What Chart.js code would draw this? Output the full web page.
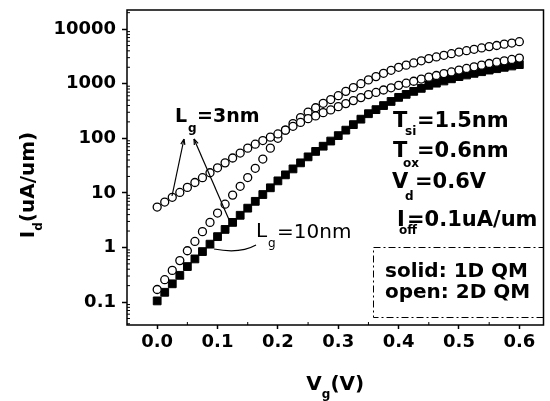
<!DOCTYPE html>
<html>
<head>
<meta charset="utf-8">
<script src="https://cdn.jsdelivr.net/npm/chart.js@4.4.0/dist/chart.umd.min.js"></script>
<style>
html, body { margin: 0; padding: 0; background: #fff; }
#wrap { width: 550px; height: 401px; }
</style>
</head>
<body>
<div id="wrap"><canvas id="grafico" width="550" height="401"></canvas></div>
<script>
// Tensão de porta (V)
const vg = [0, 0.0125, 0.025, 0.0375, 0.05, 0.0625, 0.075, 0.0875, 0.1, 0.1125, 0.125, 0.1375,
    0.15, 0.1625, 0.175, 0.1875, 0.2, 0.2125, 0.225, 0.2375, 0.25, 0.2625, 0.275, 0.2875,
    0.3, 0.3125, 0.325, 0.3375, 0.35, 0.3625, 0.375, 0.3875, 0.4, 0.4125, 0.425, 0.4375,
    0.45, 0.4625, 0.475, 0.4875, 0.5, 0.5125, 0.525, 0.5375, 0.55, 0.5625, 0.575, 0.5875, 0.6];

// Id (uA/um) - círculos abertos, Lg=3nm
const idLg3Aberto = [5.5, 6.8, 8.3, 10.2, 12.6, 15.5, 19, 23.4, 28.8, 35.5, 43.6, 53.7,
    66, 78, 91, 105, 120, 141, 166, 195, 229, 257, 295, 331,
    380, 432, 490, 556, 631, 692, 767, 841, 933, 1023, 1109, 1216,
    1318, 1413, 1531, 1641, 1778, 1905, 2042, 2188, 2344, 2483, 2630, 2786, 2951];

// Id (uA/um) - círculos abertos que partem de 0.17
const idAbertoB = [0.17, 0.257, 0.38, 0.575, 0.87, 1.29, 1.95, 2.88, 4.27, 6.2, 9.1, 13.2,
    19.1, 28.2, 41.7, 66, 100, 141, 186, 240, 302, 363, 437, 513,
    603, 724, 851, 1000, 1175, 1349, 1549, 1758, 1995, 2188, 2399, 2630,
    2884, 3090, 3311, 3548, 3802, 4027, 4266, 4519, 4786, 5012, 5309, 5559, 5888];

// Id (uA/um) - quadrados cheios (1D QM)
const idSolido = [0.105, 0.151, 0.216, 0.309, 0.447, 0.617, 0.841, 1.15, 1.58, 2.14, 2.88, 3.89,
    5.25, 7.0, 9.33, 12.4, 16.6, 21.4, 27.5, 35.5, 45.7, 57.5, 71.6, 89,
    112, 141, 178, 224, 282, 335, 398, 473, 562, 638, 724, 822,
    933, 1023, 1122, 1230, 1349, 1445, 1549, 1660, 1778, 1884, 1995, 2113, 2239];

// Marcas dos eixos
const xTicks = [0, 0.1, 0.2, 0.3, 0.4, 0.5, 0.6];
const xTickLabels = ['0.0', '0.1', '0.2', '0.3', '0.4', '0.5', '0.6'];
const xMinor = [0.05, 0.15, 0.25, 0.35, 0.45, 0.55];
const yTicks = [0.1, 1, 10, 100, 1000, 10000];
const yTickLabels = ['0.1', '1', '10', '100', '1000', '10000'];

const FONTE = 'DejaVu Sans';

function pontos(ys) {
    return vg.map((x, i) => ({ x: x, y: ys[i] }));
}

// Escreve um texto com índice (ex.: T_si=1.5nm)
function escreve(ctx, partes) {
    partes.forEach(p => {
        ctx.font = p.f;
        ctx.fillText(p.t, p.x, p.y);
    });
}

function seta(ctx, x1, y1, x2, y2) {
    // linha de (x1,y1) até (x2,y2) com ponta em (x1,y1)
    ctx.beginPath();
    ctx.moveTo(x1, y1);
    ctx.lineTo(x2, y2);
    ctx.stroke();
    const ang = Math.atan2(y1 - y2, x1 - x2);
    ctx.beginPath();
    ctx.moveTo(x1, y1);
    ctx.lineTo(x1 - 6 * Math.cos(ang - 0.35), y1 - 6 * Math.sin(ang - 0.35));
    ctx.moveTo(x1, y1);
    ctx.lineTo(x1 - 6 * Math.cos(ang + 0.35), y1 - 6 * Math.sin(ang + 0.35));
    ctx.stroke();
}

const fundoBranco = {
    id: 'fundoBranco',
    beforeDraw(chart) {
        const ctx = chart.ctx;
        ctx.save();
        ctx.fillStyle = '#fff';
        ctx.fillRect(0, 0, chart.width, chart.height);
        ctx.restore();
    }
};

const anotacoes = {
    id: 'anotacoes',
    afterDraw(chart) {
        const ctx = chart.ctx;
        const a = chart.chartArea;
        const sx = chart.scales.x, sy = chart.scales.y;
        ctx.save();
        ctx.strokeStyle = '#000';
        ctx.fillStyle = '#000';

        // moldura
        ctx.lineWidth = 1.5;
        ctx.strokeRect(a.left, a.top, a.right - a.left, a.bottom - a.top);

        // marcas menores
        ctx.lineWidth = 1;
        ctx.beginPath();
        for (let e = -2; e <= 4; e++) {
            for (let m = 2; m <= 9; m++) {
                const v = m * Math.pow(10, e);
                const py = sy.getPixelForValue(v);
                if (py > a.top && py < a.bottom) {
                    ctx.moveTo(a.left, py);
                    ctx.lineTo(a.left + 3, py);
                }
            }
        }
        xMinor.forEach(v => {
            const px = sx.getPixelForValue(v);
            ctx.moveTo(px, a.bottom);
            ctx.lineTo(px, a.bottom - 3);
        });
        ctx.stroke();

        ctx.textBaseline = 'alphabetic';
        ctx.textAlign = 'left';
        const b21 = 'bold 21px "' + FONTE + '"';
        const b20 = 'bold 20px "' + FONTE + '"';
        const b19 = 'bold 19px "' + FONTE + '"';
        const r20 = '20px "' + FONTE + '"';
        const s12 = 'bold 12px "' + FONTE + '"';
        const r12 = '12px "' + FONTE + '"';

        // Lg=3nm
        escreve(ctx, [
            { t: 'L', f: b19, x: 175, y: 122 },
            { t: 'g', f: s12, x: 188, y: 132 },
            { t: '=3nm', f: b19, x: 197, y: 122 }
        ]);
        ctx.lineWidth = 1.2;
        seta(ctx, 184, 139, 172, 196);
        seta(ctx, 194, 139, 230, 222);

        // Lg=10nm
        escreve(ctx, [
            { t: 'L', f: r20, x: 256, y: 237 },
            { t: 'g', f: r12, x: 268, y: 247 },
            { t: '=10nm', f: r20, x: 277, y: 238 }
        ]);
        ctx.beginPath();
        ctx.moveTo(256, 245);
        ctx.quadraticCurveTo(240, 254, 214, 249);
        ctx.stroke();

        // parâmetros
        escreve(ctx, [
            { t: 'T', f: b21, x: 393, y: 127 },
            { t: 'si', f: s12, x: 405, y: 135 },
            { t: '=1.5nm', f: b21, x: 417, y: 127 },
            { t: 'T', f: b21, x: 393, y: 157 },
            { t: 'ox', f: s12, x: 403, y: 167 },
            { t: '=0.6nm', f: b21, x: 417, y: 157 },
            { t: 'V', f: b21, x: 392, y: 188 },
            { t: 'd', f: s12, x: 405, y: 200 },
            { t: '=0.6V', f: b21, x: 415, y: 188 },
            { t: 'I', f: b21, x: 397, y: 226 },
            { t: 'off', f: s12, x: 399, y: 234 },
            { t: '=0.1uA/um', f: b21, x: 407, y: 226 }
        ]);

        // caixa da legenda
        ctx.lineWidth = 1;
        ctx.setLineDash([7, 3, 2, 3]);
        ctx.strokeRect(373.5, 247.5, 170, 70);
        ctx.setLineDash([]);
        escreve(ctx, [
            { t: 'solid: 1D QM', f: b20, x: 385, y: 277 },
            { t: 'open: 2D QM', f: b20, x: 385, y: 298 }
        ]);

        // título do eixo x
        ctx.font = b20;
        const w1 = ctx.measureText('V').width;
        const w3 = ctx.measureText('(V)').width;
        ctx.font = s12;
        const w2 = ctx.measureText('g').width;
        let x0 = (a.left + a.right) / 2 - (w1 + w2 + w3) / 2;
        escreve(ctx, [
            { t: 'V', f: b20, x: x0, y: 390 },
            { t: 'g', f: s12, x: x0 + w1, y: 398 },
            { t: '(V)', f: b20, x: x0 + w1 + w2, y: 390 }
        ]);

        // título do eixo y
        ctx.translate(34, 185);
        ctx.rotate(-Math.PI / 2);
        ctx.font = b20;
        const v1 = ctx.measureText('I').width;
        const v3 = ctx.measureText('(uA/um)').width;
        ctx.font = s12;
        const v2 = ctx.measureText('d').width;
        x0 = -(v1 + v2 + v3) / 2;
        escreve(ctx, [
            { t: 'I', f: b20, x: x0, y: 0 },
            { t: 'd', f: s12, x: x0 + v1, y: 8 },
            { t: '(uA/um)', f: b20, x: x0 + v1 + v2, y: 0 }
        ]);
        ctx.restore();
    }
};

const ctx = document.getElementById('grafico').getContext('2d');
const grafico = new Chart(ctx, {
    type: 'scatter',
    data: {
        datasets: [
            {
                label: 'Lg=3nm (open)',
                data: pontos(idLg3Aberto),
                pointStyle: 'circle',
                pointRadius: 4,
                borderColor: '#000',
                backgroundColor: '#fff',
                pointBorderWidth: 1.3,
                order: 1
            },
            {
                label: 'open (B)',
                data: pontos(idAbertoB),
                pointStyle: 'circle',
                pointRadius: 4,
                borderColor: '#000',
                backgroundColor: '#fff',
                pointBorderWidth: 1.3,
                order: 2
            },
            {
                label: 'solid: 1D QM',
                data: pontos(idSolido),
                pointStyle: 'rect',
                pointRadius: 5.5,
                borderColor: '#000',
                backgroundColor: '#000',
                pointBorderWidth: 1,
                order: 3
            }
        ]
    },
    options: {
        responsive: false,
        animation: false,
        layout: { padding: { top: 10, right: 3, left: 0, bottom: 0 } },
        plugins: {
            legend: { display: false },
            tooltip: { enabled: false }
        },
        scales: {
            x: {
                type: 'linear',
                min: -0.05,
                max: 0.64,
                afterFit: s => { s.height = 76; s.paddingLeft = 0; s.paddingRight = 0; },
                afterBuildTicks: s => { s.ticks = xTicks.map(v => ({ value: v })); },
                border: { display: false },
                grid: { drawOnChartArea: false, drawTicks: true, tickLength: 4, tickColor: '#000', tickWidth: 1.5 },
                ticks: {
                    color: '#000',
                    padding: 3,
                    maxRotation: 0,
                    font: { family: FONTE, weight: 'bold', size: 18 },
                    callback: (v, i) => xTickLabels[i]
                }
            },
            y: {
                type: 'logarithmic',
                min: 0.038,
                max: 22400,
                afterFit: s => { s.width = 127; s.paddingTop = 0; s.paddingBottom = 0; },
                afterBuildTicks: s => { s.ticks = yTicks.map(v => ({ value: v })); },
                border: { display: false },
                grid: { drawOnChartArea: false, drawTicks: true, tickLength: 5, tickColor: '#000', tickWidth: 1.5 },
                ticks: {
                    color: '#000',
                    padding: 6,
                    font: { family: FONTE, weight: 'bold', size: 18 },
                    callback: (v, i) => yTickLabels[i]
                }
            }
        }
    },
    plugins: [fundoBranco, anotacoes]
});
</script>
</body>
</html>
